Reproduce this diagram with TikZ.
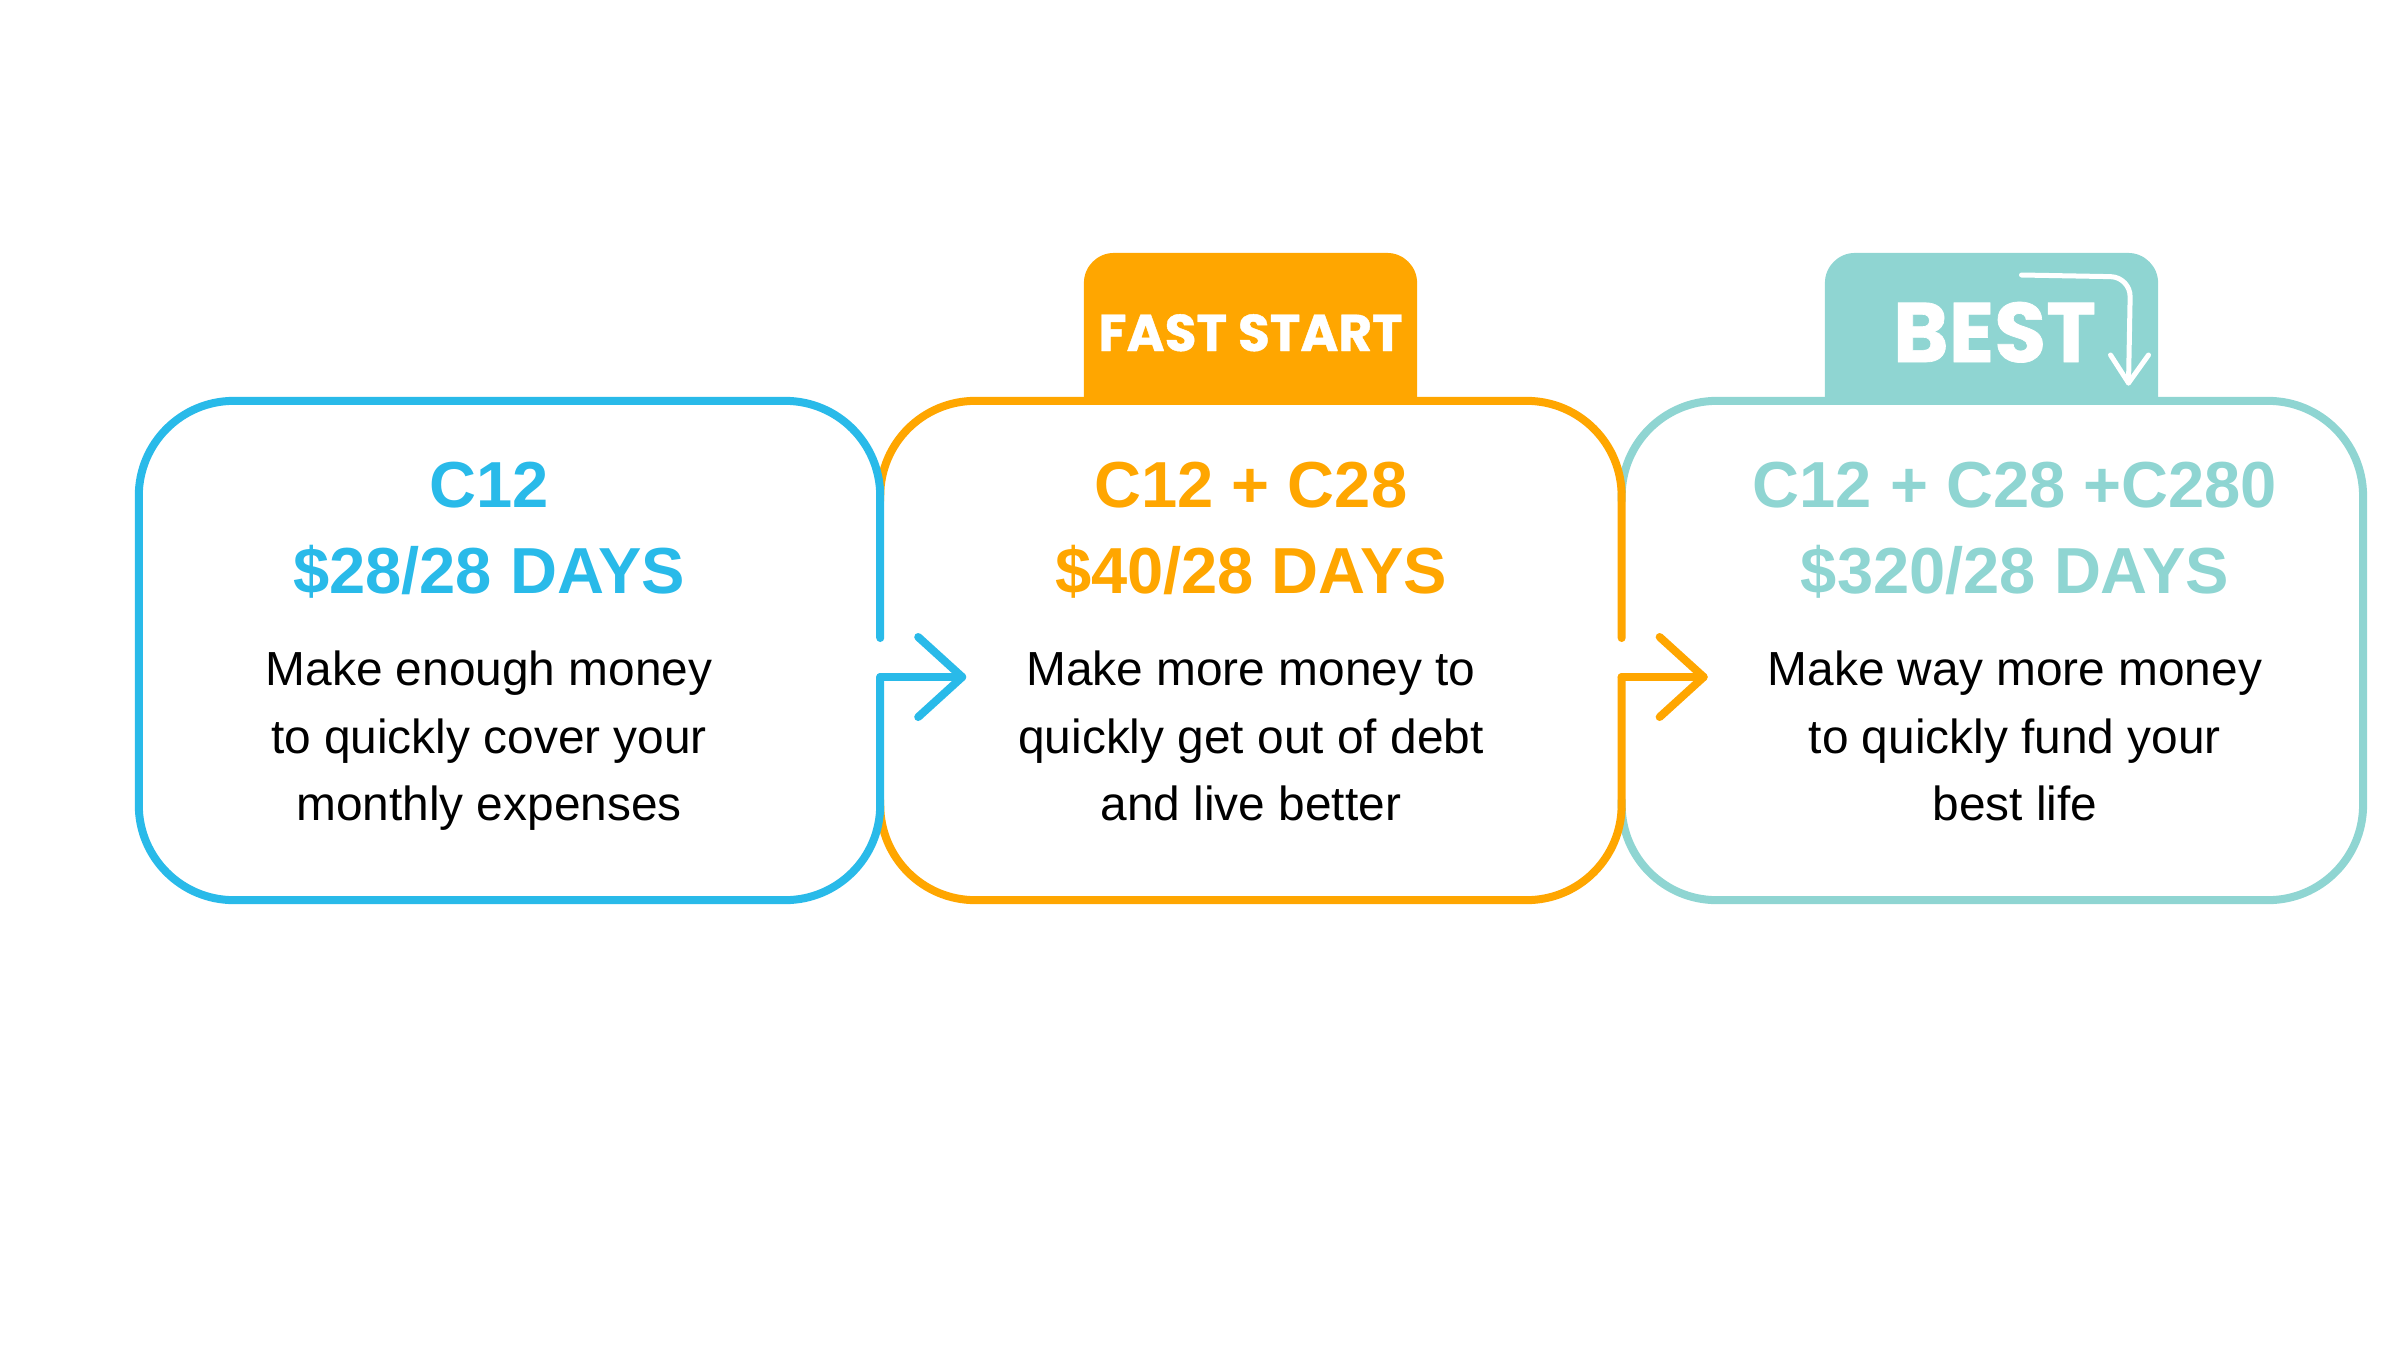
\documentclass[tikz,border=0pt]{standalone}
\usepackage{fontspec}
\setmainfont{Liberation Sans}
\newfontfamily\tabfont[BoldFeatures={FakeBold=0.8}]{Poppins}
\usetikzlibrary{arrows.meta, positioning, calc}
\usepackage{xcolor}
\definecolor{planblue}{RGB}{41,186,233}
\definecolor{planorange}{RGB}{255,166,0}
\definecolor{planteal}{RGB}{143,213,210}

\begin{document}
\begin{tikzpicture}[
    x=0.01cm, y=0.01cm,
    card/.style={fill=white, rounded corners=0.95cm, minimum width=7.41cm,
                 minimum height=4.99cm, inner sep=0pt, outer sep=0pt},
    tab/.style={rounded corners=0.3cm, minimum width=3.33cm,
                minimum height=1.9cm, inner sep=0pt},
    tablabel/.style={anchor=base, text=white, font=\tabfont\bfseries},
    outline/.style={line width=0.08cm, line cap=round, line join=round,
                    rounded corners=0.95cm},
    arr/.style={line width=0.08cm, line cap=round, line join=round},
    head/.style={anchor=base, font=\fontsize{18.5}{22}\selectfont\bfseries},
    desc/.style={align=center, font=\fontsize{13.6}{19.2}\selectfont,
                 execute at begin node=\strut, execute at end node=\strut},
  ]
  \useasboundingbox (0,0) rectangle (2400,1350);

  % Tabs (behind the cards)
  \node[tab, fill=planorange] (fasttab) at (1250.5,1002) {};
  \node[tab, fill=planteal] (besttab) at (1991.5,1002) {};

  % Cards
  \node[card] (plan1) at (509.5,699.5) {};
  \node[card, right=0pt of plan1] (plan2) {};
  \node[card, right=0pt of plan2] (plan3) {};

  % Bends of the step arrows
  \coordinate (bend1) at ($(plan1.east)+(0,-26.5)$);
  \coordinate (bend2) at ($(plan2.east)+(0,-26.5)$);

  % Outlines: teal, orange, blue
  \draw[outline, planteal] ($(plan3.north west)+(0,-100)$) -- (plan3.north west)
       -- (plan3.north east) -- (plan3.south east) -- (plan3.south west)
       -- ($(plan3.south west)+(0,100)$);
  \draw[outline, planorange] ($(plan2.north west)+(0,-100)$) -- (plan2.north west)
       -- (plan2.north east) -- ($(plan2.east)+(0,12.5)$);
  \draw[outline, planorange] (bend2) -- (plan2.south east) -- (plan2.south west)
       -- ($(plan2.south west)+(0,100)$);
  \draw[outline, planblue] ($(plan1.east)+(0,12.5)$) -- (plan1.north east)
       -- (plan1.north west) -- (plan1.south west) -- (plan1.south east) -- (bend1);

  % Step arrows
  \draw[arr, planblue] (bend1) -- ++(82,0) coordinate (tip1);
  \draw[arr, planblue] ($(tip1)+(-44,40)$) -- (tip1) -- ($(tip1)+(-44,-40)$);
  \draw[arr, planorange] (bend2) -- ++(82,0) coordinate (tip2);
  \draw[arr, planorange] ($(tip2)+(-44,40)$) -- (tip2) -- ($(tip2)+(-44,-40)$);

  % Tab labels
  \node[tablabel, font=\tabfont\bfseries\fontsize{14.7}{16}\selectfont]
       (fastlabel) at ($(fasttab.center)+(0,-3)$) {FAST START};
  \node[tablabel, font=\tabfont\bfseries\fontsize{24}{26}\selectfont]
       (bestlabel) at ($(besttab.center)+(3,-14)$) {BEST};
  \draw[white, line width=0.05cm, line cap=round, rounded corners=0.2cm]
       ($(besttab.center)+(30,73)$) -- ($(besttab.center)+(139,71)$)
       -- ($(besttab.center)+(137,-35)$) coordinate (besttip);
  \draw[white, line width=0.05cm, line cap=round, line join=round]
       ($(besttip)+(-18,28)$) -- (besttip) -- ($(besttip)+(20,28)$);

  % Card 1
  \node[head, text=planblue] (title1) at ($(plan1.center)+(-20.5,143.5)$) {C12};
  \node[head, text=planblue] (price1) at ($(plan1.center)+(-20.5,57.5)$) {\$28/28 DAYS};
  \node[desc] (desc1) at ($(plan1.center)+(-20.5,-95.5)$)
       {Make enough money\\to quickly cover your\\monthly expenses};

  % Card 2
  \node[head, text=planorange] (title2) at ($(plan2.center)+(0,143.5)$) {C12 + C28};
  \node[head, text=planorange] (price2) at ($(plan2.center)+(0,57.5)$) {\$40/28 DAYS};
  \node[desc] (desc2) at ($(plan2.center)+(0,-95.5)$)
       {Make more money to\\quickly get out of debt\\and live better};

  % Card 3
  \node[head, text=planteal] (title3) at ($(plan3.center)+(22.5,143.5)$) {C12 + C28 +C280};
  \node[head, text=planteal] (price3) at ($(plan3.center)+(22.5,57.5)$) {\$320/28 DAYS};
  \node[desc] (desc3) at ($(plan3.center)+(22.5,-95.5)$)
       {Make way more money\\to quickly fund your\\best life};
\end{tikzpicture}
\end{document}
